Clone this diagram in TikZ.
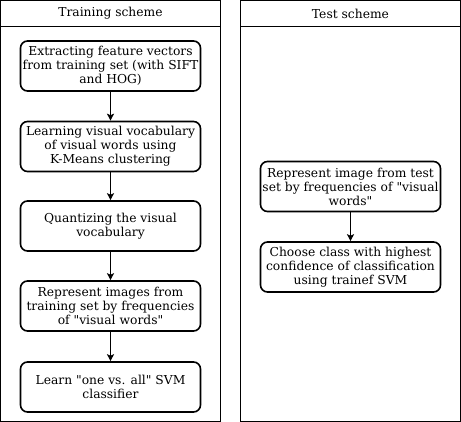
\documentclass[tikz,border=0pt]{standalone}
\usepackage{fontspec}
\setmainfont{DejaVu Serif}
\usetikzlibrary{arrows.meta}
\newcommand{\qd}{\textquotedbl}
\begin{document}
\begin{tikzpicture}[x=1pt,y=-1pt,
  lane/.style={draw=black,line width=1pt},
  stepbox/.style={draw=black,line width=1.6pt,rounded corners=7pt,minimum width=180pt,minimum height=50pt,align=center,inner sep=0pt,font=\fontsize{12.3}{14}\selectfont},
  title/.style={font=\fontsize{12.3}{14}\selectfont,inner sep=0pt},
  flow/.style={draw=black,line width=1pt,-{Stealth[length=7pt,width=7pt,inset=1.5pt]}}]
\useasboundingbox (0,0) rectangle (461,422);
% lanes
\draw[lane] (0.5,0.5) rectangle (220.5,421.5);
\draw[lane] (0.5,26.5) -- (220.5,26.5);
\draw[lane] (240.5,0.5) rectangle (460.5,421.5);
\draw[lane] (240.5,26.5) -- (460.5,26.5);
\node[title] (t1) at (110.5,13.5) {Training scheme};
\node[title] (t2) at (350.5,13.5) {Test scheme};
% training boxes
\node[stepbox] (a) at (110.5,66) {Extracting feature vectors\\from training set (with SIFT\\and HOG)};
\node[stepbox] (b) at (110.5,146.5) {Learning visual vocabulary\\of visual words using\\K-Means clustering};
\node[stepbox] (c) at (110.5,226) {Quantizing the visual\\vocabulary};
\node[stepbox] (d) at (110.5,306) {Represent images from\\training set by frequencies\\of \qd visual words\qd};
\node[stepbox] (e) at (110.5,387) {Learn \qd one vs. all\qd{} SVM\\classifier};
% test boxes
\node[stepbox] (f) at (350.5,186.5) {Represent image from test\\set by frequencies of \qd visual\\words\qd};
\node[stepbox] (g) at (350.5,267) {Choose class with highest\\confidence of classification\\using trainef SVM};
\draw[flow] (a) -- (b);
\draw[flow] (b) -- (c);
\draw[flow] (c) -- (d);
\draw[flow] (d) -- (e);
\draw[flow] (f) -- (g);
\end{tikzpicture}
\end{document}
